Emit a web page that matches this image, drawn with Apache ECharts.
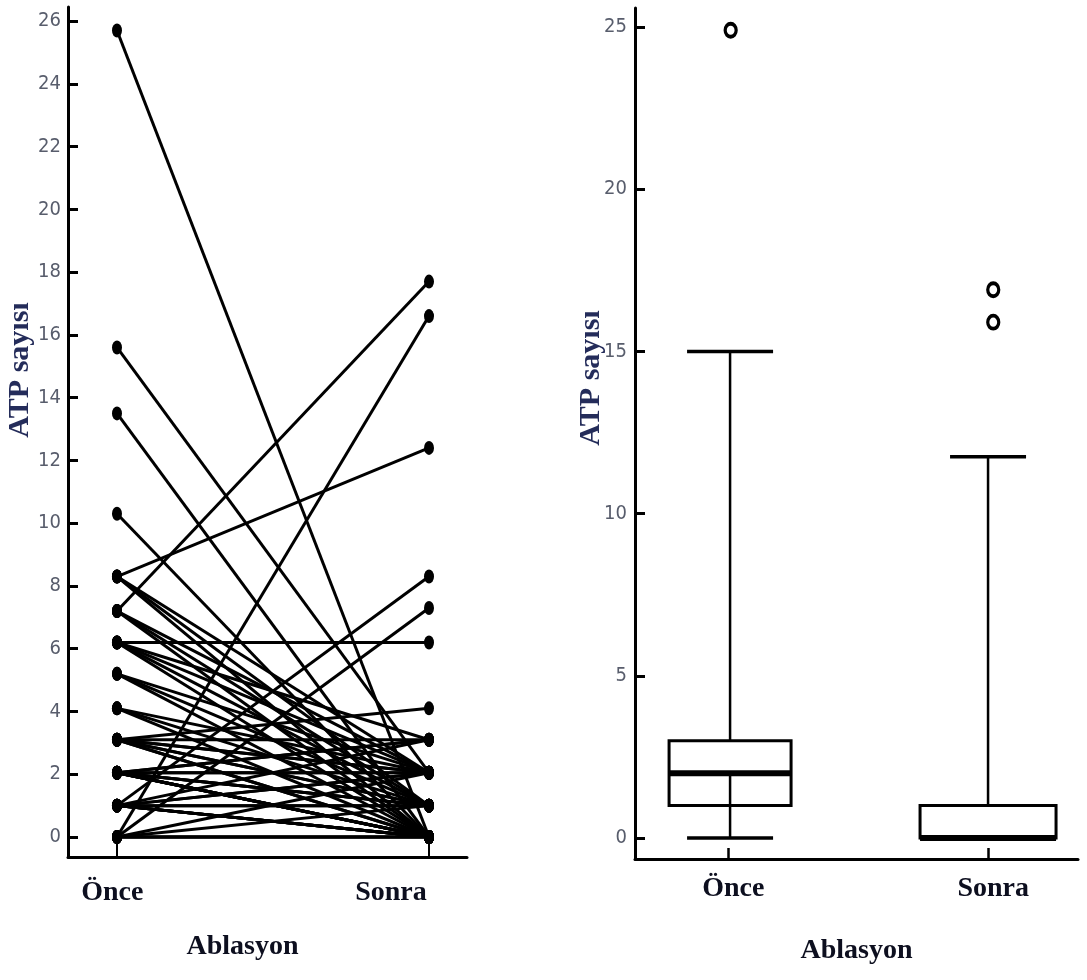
<!DOCTYPE html>
<html>
<head>
<meta charset="utf-8">
<script src="https://cdn.jsdelivr.net/npm/echarts@6/dist/echarts.min.js"></script>
<style>
  html, body { margin: 0; background: #fff; }
  #chart { width: 1087px; height: 980px; }
</style>
</head>
<body>
<div id="chart"></div>
<script>
var categories = ['Önce', 'Sonra']

// sol grafik: hasta bazında önce -> sonra değerleri
var onceValues = [25.7, 15.6, 13.5, 10.3, 8.3, 8.3, 8.3, 8.3, 7.2, 7.2,
  7.2, 7.2, 6.2, 6.2, 6.2, 6.2, 6.2, 5.2, 5.2, 5.2,
  4.1, 4.1, 4.1, 3.1, 3.1, 3.1, 3.1, 3.1, 3.1, 3.1,
  3.1, 2.05, 2.05, 2.05, 2.05, 2.05, 2.05, 2.05, 2.05, 2.05,
  2.05, 2.05, 2.05, 1, 1, 1, 1, 1, 1, 1,
  1, 1, 1, 1, 0, 0, 0, 0, 0, 0, 0]
var sonraValues = [0, 2.05, 0, 0, 12.4, 2.05, 1, 0, 17.7, 2.05,
  1, 0, 6.2, 3.1, 2.05, 1, 0, 2.05, 1, 0,
  2.05, 1, 0, 4.1, 3.1, 2.05, 2.05, 1, 1, 0,
  0, 3.1, 3.1, 2.05, 2.05, 1, 1, 1, 0, 0,
  0, 0, 0, 8.3, 3.1, 2.05, 2.05, 1, 1, 0,
  0, 0, 0, 0, 16.6, 7.3, 2.05, 1, 0, 0, 0]
var leftTicks = [0, 2, 4, 6, 8, 10, 12, 14, 16, 18, 20, 22, 24, 26]

// sağ grafik: kutu grafiği [min, Q1, medyan, Q3, max]
var onceBox = [0, 1, 2, 3, 15]
var sonraBox = [0, 0, 0, 1, 11.75]
var onceOutliers = [24.9]
var sonraOutliers = [16.9, 15.9]
var rightTicks = [0, 5, 10, 15, 20, 25]

var chart = echarts.init(document.getElementById('chart'))

var boxHalf = [61, 68]
var capHalf = [43, 38]

var tickFont = {
  color: '#585d6c',
  fontFamily: 'Liberation Sans Narrow, DejaVu Sans Condensed, sans-serif',
  fontSize: 20
}
var catFont = {
  color: '#0d0f1f',
  fontFamily: 'Liberation Serif, serif',
  fontWeight: 'bold',
  fontSize: 28
}

function catName(v) {
  return v < 0.5 ? categories[0] : categories[1]
}

function renderBox(params, api) {
  var idx = api.value(0)
  var pMin = api.coord([idx, api.value(1)])
  var pQ1 = api.coord([idx, api.value(2)])
  var pMed = api.coord([idx, api.value(3)])
  var pQ3 = api.coord([idx, api.value(4)])
  var pMax = api.coord([idx, api.value(5)])
  var x = pMed[0] + (idx === 0 ? 2 : 0)
  var h = boxHalf[idx]
  var c = capHalf[idx]
  return {
    type: 'group',
    children: [
      { type: 'line', shape: { x1: x, y1: pMax[1], x2: x, y2: pQ3[1] }, style: { stroke: '#000', lineWidth: 2.5 } },
      { type: 'line', shape: { x1: x - c, y1: pMax[1], x2: x + c, y2: pMax[1] }, style: { stroke: '#000', lineWidth: 3.5 } },
      { type: 'rect', shape: { x: x - h, y: pQ3[1], width: 2 * h, height: pQ1[1] - pQ3[1] }, style: { fill: '#fff', stroke: '#000', lineWidth: 3 } },
      { type: 'line', shape: { x1: x, y1: pMed[1], x2: x, y2: pMin[1] }, style: { stroke: '#000', lineWidth: 2.5 } },
      { type: 'line', shape: { x1: x - c, y1: pMin[1], x2: x + c, y2: pMin[1] }, style: { stroke: '#000', lineWidth: 3.5 } },
      { type: 'line', shape: { x1: x - h, y1: pMed[1], x2: x + h, y2: pMed[1] }, style: { stroke: '#000', lineWidth: 6 } }
    ]
  }
}

var series = []
onceValues.forEach(function (v, i) {
  series.push({
    type: 'line',
    xAxisIndex: 0,
    yAxisIndex: 0,
    data: [[0, v], [1, sonraValues[i]]],
    symbol: 'circle',
    symbolSize: [10, 14],
    lineStyle: { color: '#000', width: 3 },
    itemStyle: { color: '#000' },
    silent: true
  })
})

series.push({
  type: 'custom',
  xAxisIndex: 1,
  yAxisIndex: 1,
  renderItem: renderBox,
  encode: { x: 0, y: [1, 2, 3, 4, 5] },
  data: [[0].concat(onceBox), [1].concat(sonraBox)],
  silent: true
})

var outlierData = []
onceOutliers.forEach(function (v) { outlierData.push([0.01, v]) })
sonraOutliers.forEach(function (v) { outlierData.push([1.02, v]) })
series.push({
  type: 'scatter',
  xAxisIndex: 1,
  yAxisIndex: 1,
  data: outlierData,
  symbol: 'circle',
  symbolSize: [11, 13],
  itemStyle: { color: '#fff', borderColor: '#000', borderWidth: 3.5, opacity: 1 },
  silent: true
})

chart.setOption({
  animation: false,
  backgroundColor: '#fff',
  grid: [
    { left: 68, top: 7, width: 399, height: 850 },
    { left: 635, top: 8, width: 443, height: 851 }
  ],
  xAxis: [
    {
      gridIndex: 0,
      type: 'value',
      min: -0.157,
      max: 1.1218,
      splitLine: { show: false },
      axisLine: { show: true, onZero: false, lineStyle: { color: '#000', width: 3 } },
      axisTick: { show: true, inside: true, length: 20, customValues: [0, 1], lineStyle: { color: '#000', width: 2 } },
      axisLabel: Object.assign({ margin: 22, customValues: [-0.015, 0.878], formatter: catName }, catFont),
      name: 'Ablasyon',
      nameLocation: 'middle',
      nameGap: 76,
      nameTextStyle: Object.assign({ padding: [0, 50, 0, 0] }, catFont)
    },
    {
      gridIndex: 1,
      type: 'value',
      min: -0.358,
      max: 1.346,
      splitLine: { show: false },
      axisLine: { show: true, onZero: false, lineStyle: { color: '#000', width: 3 } },
      axisTick: { show: true, inside: true, length: 11, customValues: [0, 1], lineStyle: { color: '#000', width: 2.5 } },
      axisLabel: Object.assign({ margin: 16, customValues: [0.02, 1.02], formatter: catName }, catFont),
      name: 'Ablasyon',
      nameLocation: 'middle',
      nameGap: 78,
      nameTextStyle: catFont
    }
  ],
  yAxis: [
    {
      gridIndex: 0,
      type: 'value',
      min: -0.637,
      max: 26.45,
      splitLine: { show: false },
      axisLine: { show: true, onZero: false, lineStyle: { color: '#000', width: 3 } },
      axisTick: { show: true, inside: true, length: 10, customValues: leftTicks, lineStyle: { color: '#000', width: 3 } },
      axisLabel: Object.assign({ margin: 7, customValues: leftTicks }, tickFont)
    },
    {
      gridIndex: 1,
      type: 'value',
      min: -0.647,
      max: 25.586,
      splitLine: { show: false },
      axisLine: { show: true, onZero: false, lineStyle: { color: '#000', width: 3 } },
      axisTick: { show: true, inside: true, length: 10, customValues: rightTicks, lineStyle: { color: '#000', width: 3 } },
      axisLabel: Object.assign({ margin: 8, customValues: rightTicks }, tickFont)
    }
  ],
  graphic: [
    {
      type: 'text', x: 20, y: 370, rotation: Math.PI / 2,
      style: { text: 'ATP sayısı', x: 0, y: 0, align: 'center', verticalAlign: 'middle',
        fill: '#242c5a', font: 'bold 30px "Liberation Serif", serif' }
    },
    {
      type: 'text', x: 591, y: 378, rotation: Math.PI / 2,
      style: { text: 'ATP sayısı', x: 0, y: 0, align: 'center', verticalAlign: 'middle',
        fill: '#242c5a', font: 'bold 30px "Liberation Serif", serif' }
    }
  ],
  series: series
})
</script>
</body>
</html>
